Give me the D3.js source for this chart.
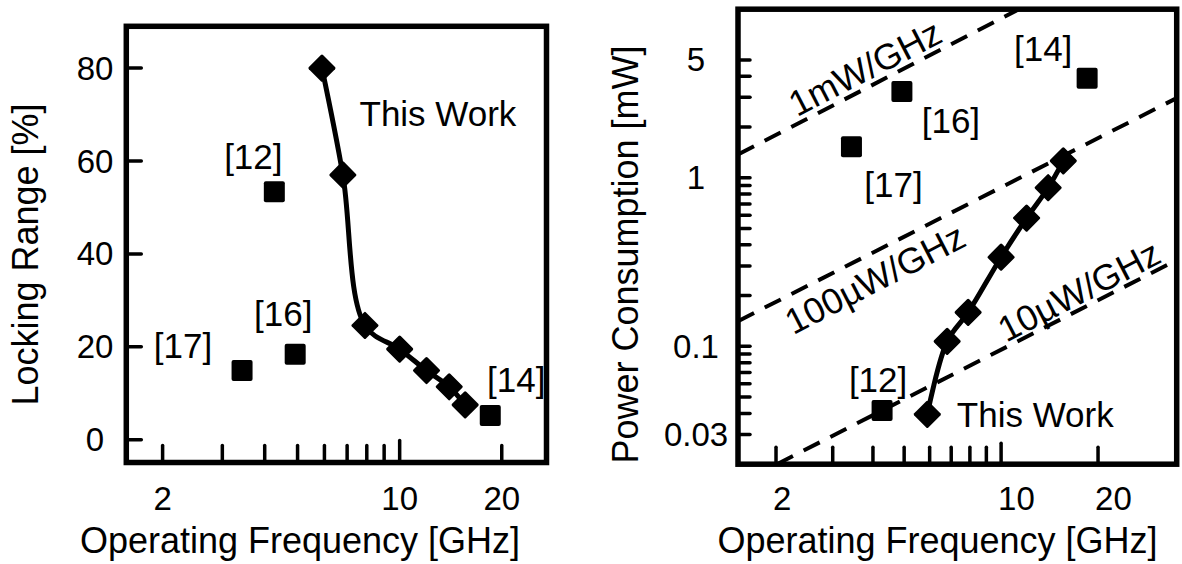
<!DOCTYPE html>
<html lang="en">
<head>
<meta charset="utf-8">
<title>Locking range and power vs frequency</title>
<script src="https://d3js.org/d3.v7.min.js"></script>
<style>
  body { margin: 0; background: #fff; }
  text { font-family: "Liberation Sans", Arial, sans-serif; fill: #000; }
</style>
</head>
<body>
<script>
// this work (diamonds, joined by a line)
const workFreq  = [5.9, 6.8, 7.9, 10.0, 12.0, 14.0, 15.6]
const workLock  = [80, 57, 24.6, 19.5, 14.9, 11.4, 7.5]
const workPower = [0.0395, 0.107, 0.159, 0.338, 0.577, 0.873, 1.26]

// prior works (squares)
const refNames = ["[12]", "[14]", "[16]", "[17]"]
const refFreq  = [4.27, 18.5, 4.92, 3.43]
const refLock  = [53.4, 5.2, 18.4, 14.9]
const refPower = [0.0416, 3.9, 3.25, 1.53]

const guideLabels = ["1mW/GHz", "100\u00b5W/GHz", "10\u00b5W/GHz"]
const guideStart  = [[1.52, 1.37], [1.59, 0.147], [2.23, 0.0221]]
const guideEnd    = [[11.1, 9.78], [33.9, 2.87], [33.9, 0.314]]

// ticks
const freqTicks   = [2, 3, 4, 5, 6, 7, 8, 9, 10, 20]
const freqLabels  = [2, 10, 20]
const lockTicks   = [0, 20, 40, 60, 80]
const powerTicks  = [5, 4, 3, 2, 1, 0.9, 0.8, 0.7, 0.6, 0.5, 0.4, 0.3, 0.2,
                     0.1, 0.09, 0.08, 0.07, 0.06, 0.05, 0.04, 0.03]
const powerLabels = [5, 1, 0.1, 0.03]

const W = 1182, H = 564
const svg = d3.select("body").append("svg").attr("width", W).attr("height", H)

const xL = d3.scaleLog().domain([1.563, 27.1]).range([126.3, 546.5])
const yL = d3.scaleLinear().domain([-4.9, 89]).range([462.5, 26.3])
const xR = d3.scaleLog().domain([1.524, 35.1]).range([738, 1176.7])
const yR = d3.scaleLog().domain([0.02, 10]).range([464.2, 9.2])

const boxOf = (x, y) => {
  const [x0, x1] = x.range(), [y1, y0] = y.range()
  return {x0, x1, y0, y1}
}

const drawSquares = (g, x, y, vals) => {
  g.selectAll("rect.ref")
    .data(refFreq.map((f, i) => [f, vals[i]]))
    .join("rect")
    .attr("class", "ref")
    .attr("x", d => x(d[0]) - 10.5)
    .attr("y", d => y(d[1]) - 10.5)
    .attr("width", 21).attr("height", 21)
    .attr("rx", 2)
    .attr("fill", "#000")
}

const drawWork = (g, x, y, vals, curve) => {
  const pts = workFreq.map((f, i) => [x(f), y(vals[i])])
  g.append("path")
    .attr("d", d3.line().curve(curve)(pts))
    .attr("fill", "none").attr("stroke", "#000")
    .attr("stroke-width", 5).attr("stroke-linejoin", "round")
  g.selectAll("rect.work")
    .data(pts)
    .join("rect")
    .attr("class", "work")
    .attr("x", -10).attr("y", -10)
    .attr("width", 20).attr("height", 20)
    .attr("rx", 1.5)
    .attr("transform", d => `translate(${d[0]},${d[1]}) rotate(45)`)
    .attr("fill", "#000")
}

const drawFrame = (g, b) => {
  g.append("rect")
    .attr("x", b.x0).attr("y", b.y0)
    .attr("width", b.x1 - b.x0).attr("height", b.y1 - b.y0)
    .attr("fill", "none").attr("stroke", "#000").attr("stroke-width", 5.5)
}

const label = (g, txt, x, y, size, anchor) => g.append("text")
  .attr("x", x).attr("y", y)
  .attr("font-size", size)
  .attr("text-anchor", anchor || "middle")
  .attr("dominant-baseline", "central")
  .text(txt)

// ---------- left panel: locking range ----------
const gl = svg.append("g")
const bl = boxOf(xL, yL)

gl.selectAll("line.xt")
  .data(freqTicks)
  .join("line")
  .attr("x1", d => xL(d)).attr("x2", d => xL(d))
  .attr("y1", bl.y1).attr("y2", d => bl.y1 - (d === 10 ? 22 : 17))
  .attr("stroke", "#000").attr("stroke-width", 3.5).attr("stroke-linecap", "round")
gl.selectAll("text.xl")
  .data(freqLabels)
  .join("text")
  .attr("x", d => xL(d)).attr("y", 510)
  .attr("text-anchor", "middle").attr("font-size", 33)
  .text(d => d)

gl.selectAll("line.yt")
  .data(lockTicks)
  .join("line")
  .attr("x1", bl.x0).attr("x2", bl.x0 + 15)
  .attr("y1", d => yL(d)).attr("y2", d => yL(d))
  .attr("stroke", "#000").attr("stroke-width", 3.5).attr("stroke-linecap", "round")
gl.selectAll("text.yl")
  .data(lockTicks)
  .join("text")
  .attr("x", 95).attr("y", d => yL(d))
  .attr("text-anchor", "middle").attr("dominant-baseline", "central")
  .attr("font-size", 33)
  .text(d => d)

drawWork(gl, xL, yL, workLock, d3.curveCatmullRom)
drawSquares(gl, xL, yL, refLock)
drawFrame(gl, bl)

const refOffL = [[-21, -35], [26, -36], [-12, -41], [-59, -25]]
refNames.forEach((n, i) => {
  label(gl, n, xL(refFreq[i]) + refOffL[i][0], yL(refLock[i]) + refOffL[i][1], 35)
})
label(gl, "This Work", xL(workFreq[0]) + 116, yL(workLock[0]) + 45, 35)

gl.append("text")
  .attr("transform", `translate(38,254.5) rotate(-90)`)
  .attr("text-anchor", "middle").attr("font-size", 36)
  .text("Locking Range [%]")
gl.append("text")
  .attr("x", 300).attr("y", 553)
  .attr("text-anchor", "middle").attr("font-size", 36)
  .text("Operating Frequency [GHz]")

// ---------- right panel: power consumption ----------
const gr = svg.append("g")
const br = boxOf(xR, yR)

svg.append("clipPath").attr("id", "clipR")
  .append("rect")
  .attr("x", br.x0).attr("y", br.y0)
  .attr("width", br.x1 - br.x0).attr("height", br.y1 - br.y0)

// guide lines: extend the measured segment to the frame edges
const clipSeg = (p0, p1) => {
  const dx = p1[0] - p0[0], dy = p1[1] - p0[1]
  let t0 = -1e3, t1 = 1e3
  const lim = (p, q) => {
    const t = q / p
    if (p < 0) t0 = Math.max(t0, t)
    else t1 = Math.min(t1, t)
  }
  lim(-dx, p0[0] - br.x0); lim(dx, br.x1 - p0[0])
  lim(-dy, p0[1] - br.y0); lim(dy, br.y1 - p0[1])
  return [[p0[0] + t0 * dx, p0[1] + t0 * dy], [p0[0] + t1 * dx, p0[1] + t1 * dy]]
}

const gg = gr.append("g").attr("clip-path", "url(#clipR)")
guideLabels.forEach((n, i) => {
  const p0 = [xR(guideStart[i][0]), yR(guideStart[i][1])]
  const p1 = [xR(guideEnd[i][0]), yR(guideEnd[i][1])]
  const seg = clipSeg(p0, p1)
  gg.append("path")
    .attr("d", d3.line()(seg))
    .attr("fill", "none").attr("stroke", "#000")
    .attr("stroke-width", 4).attr("stroke-dasharray", "18,12")
})

gr.selectAll("line.xt")
  .data(freqTicks)
  .join("line")
  .attr("x1", d => xR(d)).attr("x2", d => xR(d))
  .attr("y1", br.y1).attr("y2", d => br.y1 - (d === 10 ? 21 : 17))
  .attr("stroke", "#000").attr("stroke-width", 3.5).attr("stroke-linecap", "round")
gr.selectAll("text.xl")
  .data(freqLabels)
  .join("text")
  .attr("x", d => xR(d) - 3).attr("y", 510)
  .attr("text-anchor", "start").attr("font-size", 33)
  .text(d => d)

gr.selectAll("line.yt")
  .data(powerTicks)
  .join("line")
  .attr("x1", br.x0).attr("x2", br.x0 + 12)
  .attr("y1", d => yR(d)).attr("y2", d => yR(d))
  .attr("stroke", "#000").attr("stroke-width", 3.5).attr("stroke-linecap", "round")
gr.selectAll("text.yl")
  .data(powerLabels)
  .join("text")
  .attr("x", 696).attr("y", d => yR(d))
  .attr("text-anchor", "middle").attr("dominant-baseline", "central")
  .attr("font-size", 33)
  .text(d => d)

drawWork(gr, xR, yR, workPower, d3.curveCatmullRom)
drawSquares(gr, xR, yR, refPower)
drawFrame(gr, br)

const refOffR = [[-4, -31], [-44, -30], [49, 29], [42, 38]]
refNames.forEach((n, i) => {
  label(gr, n, xR(refFreq[i]) + refOffR[i][0], yR(refPower[i]) + refOffR[i][1], 35)
})
label(gr, "This Work", xR(workFreq[0]) + 108, yR(workPower[0]), 35)

// guide labels, rotated along the lines
const guidePos = [[865, 68], [875, 279], [1079, 291]]
guideLabels.forEach((n, i) => {
  gr.append("text")
    .attr("transform", `translate(${guidePos[i][0]},${guidePos[i][1]}) rotate(-27.3)`)
    .attr("text-anchor", "middle").attr("dominant-baseline", "central")
    .attr("font-size", 36)
    .text(n)
})

gr.append("text")
  .attr("transform", `translate(638,254.5) rotate(-90)`)
  .attr("text-anchor", "middle").attr("font-size", 36)
  .text("Power Consumption [mW]")
gr.append("text")
  .attr("x", 937.5).attr("y", 553)
  .attr("text-anchor", "middle").attr("font-size", 36)
  .text("Operating Frequency [GHz]")
</script>
</body>
</html>
